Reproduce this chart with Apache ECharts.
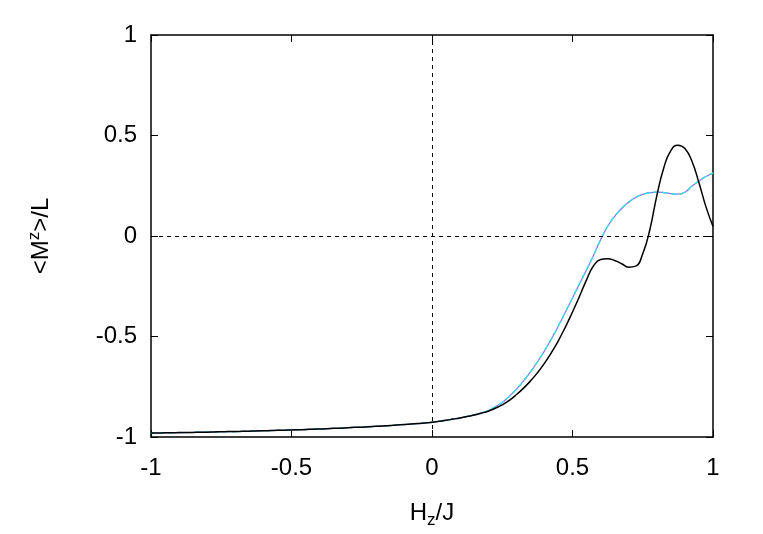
<!DOCTYPE html>
<html><head><meta charset="utf-8">
<script src="https://cdn.jsdelivr.net/npm/echarts@6/dist/echarts.min.js"></script>
<style>html,body{margin:0;padding:0;background:#fff}#c{width:763px;height:534px}</style>
</head><body><div id="c"></div>
<script>
const xTicks = [-1, -0.5, 0, 0.5, 1];
const yTicks = [-1, -0.5, 0, 0.5, 1];
const hz = [-1, -0.975, -0.95, -0.925, -0.9, -0.875, -0.85, -0.825, -0.8, -0.775,
  -0.75, -0.725, -0.7, -0.675, -0.65, -0.625, -0.6, -0.575, -0.55, -0.525,
  -0.5, -0.475, -0.45, -0.425, -0.4, -0.375, -0.35, -0.325, -0.3, -0.275,
  -0.25, -0.225, -0.2, -0.175, -0.15, -0.125, -0.1, -0.075, -0.05, -0.025,
  0, 0.025, 0.05, 0.075, 0.1, 0.125, 0.15, 0.175, 0.2, 0.225,
  0.25, 0.275, 0.3, 0.325, 0.35, 0.375, 0.4, 0.425, 0.45, 0.475,
  0.5, 0.525, 0.55, 0.575, 0.6, 0.625, 0.65, 0.675, 0.7, 0.725,
  0.75, 0.775, 0.8, 0.825, 0.85, 0.875, 0.9, 0.925, 0.95, 0.975, 1];
const blackY = [-0.980, -0.980, -0.979, -0.979, -0.978, -0.978, -0.977, -0.976, -0.976, -0.975,
  -0.974, -0.973, -0.973, -0.972, -0.971, -0.970, -0.969, -0.968, -0.967, -0.966,
  -0.965, -0.964, -0.963, -0.961, -0.960, -0.959, -0.957, -0.956, -0.954, -0.952,
  -0.951, -0.949, -0.947, -0.945, -0.943, -0.940, -0.938, -0.935, -0.933, -0.930,
  -0.927, -0.922, -0.917, -0.911, -0.905, -0.898, -0.891, -0.882, -0.872, -0.857,
  -0.840, -0.818, -0.790, -0.758, -0.722, -0.681, -0.634, -0.580, -0.520, -0.452,
  -0.378, -0.300, -0.218, -0.148, -0.117, -0.113, -0.122, -0.138, -0.155, -0.150,
  -0.088, 0.030, 0.200, 0.340, 0.425, 0.452, 0.435, 0.372, 0.265, 0.145, 0.048];
const colY = [-0.980, -0.980, -0.979, -0.979, -0.978, -0.978, -0.977, -0.976, -0.976, -0.975,
  -0.974, -0.973, -0.973, -0.972, -0.971, -0.970, -0.969, -0.968, -0.967, -0.966,
  -0.965, -0.964, -0.963, -0.961, -0.960, -0.959, -0.957, -0.956, -0.954, -0.952,
  -0.951, -0.949, -0.947, -0.945, -0.943, -0.940, -0.938, -0.935, -0.933, -0.930,
  -0.927, -0.922, -0.917, -0.911, -0.905, -0.898, -0.890, -0.880, -0.868, -0.850,
  -0.828, -0.798, -0.763, -0.722, -0.677, -0.627, -0.572, -0.512, -0.447, -0.378,
  -0.308, -0.238, -0.168, -0.096, -0.018, 0.048, 0.098, 0.137, 0.168, 0.192,
  0.207, 0.215, 0.218, 0.216, 0.211, 0.208, 0.218, 0.248, 0.274, 0.296, 0.313];

const pair = (xs, ys) => xs.map((x, i) => [x, ys[i]]);
const font = 'Liberation Sans';
const chart = echarts.init(document.getElementById('c'));
const axLine = {show: true, onZero: false, lineStyle: {color: '#000', width: 1.5}};
const tick = {show: true, inside: true, length: 7, lineStyle: {color: '#000', width: 1}};
chart.setOption({
  animation: false,
  grid: {left: 151, top: 35, width: 562, height: 408, containLabel: false},
  xAxis: [{
    type: 'value', min: -1, max: 1, interval: 0.5,
    axisLine: axLine, axisTick: tick, splitLine: {show: false},
    axisLabel: {color: '#000', fontSize: 24, fontFamily: font, margin: 19,
      formatter: v => String(v)},
    name: 'H{sub|z}/J', nameLocation: 'middle', nameGap: 61,
    nameTextStyle: {color: '#000', fontSize: 24, fontFamily: font,
      rich: {sub: {fontSize: 17, fontFamily: font, color: '#000', padding: [14, 0, 0, 0]}}}
  }, {
    type: 'value', min: -1, max: 1, interval: 0.5, position: 'top',
    axisLine: axLine, axisTick: tick, axisLabel: {show: false}, splitLine: {show: false}
  }],
  yAxis: [{
    type: 'value', min: -1, max: 1, interval: 0.5,
    axisLine: axLine, axisTick: tick, splitLine: {show: false},
    axisLabel: {color: '#000', fontSize: 24, fontFamily: font, margin: 14,
      formatter: v => String(v)},
    name: '<M{sup|z}>/L', nameLocation: 'middle', nameGap: 94, nameRotate: 90,
    nameTextStyle: {color: '#000', fontSize: 24, fontFamily: font,
      rich: {sup: {fontSize: 17, fontFamily: font, color: '#000', padding: [0, 0, 14, 0]}}}
  }, {
    type: 'value', min: -1, max: 1, interval: 0.5, position: 'right',
    axisLine: axLine, axisTick: tick, axisLabel: {show: false}, splitLine: {show: false}
  }],
  series: [
    {type: 'line', data: pair(hz, colY), smooth: true, showSymbol: false,
      lineStyle: {color: '#9966ff', width: 1.2}, z: 2,
      markLine: {silent: true, symbol: 'none', label: {show: false},
        lineStyle: {color: '#000', type: [4, 4], width: 1},
        data: [{xAxis: 0}, {yAxis: 0}]}},
    {type: 'line', data: pair(hz, colY), smooth: true, showSymbol: false,
      lineStyle: {color: '#33dd33', width: 1.2, type: [3, 6]}, z: 3},
    {type: 'line', data: pair(hz, colY), smooth: true, showSymbol: false,
      lineStyle: {color: '#33e0ee', width: 1.2, type: [6, 3]}, z: 4},
    {type: 'line', data: pair(hz, blackY), smooth: true, showSymbol: false,
      lineStyle: {color: '#000', width: 1.5}, z: 5}
  ]
});
</script></body></html>
